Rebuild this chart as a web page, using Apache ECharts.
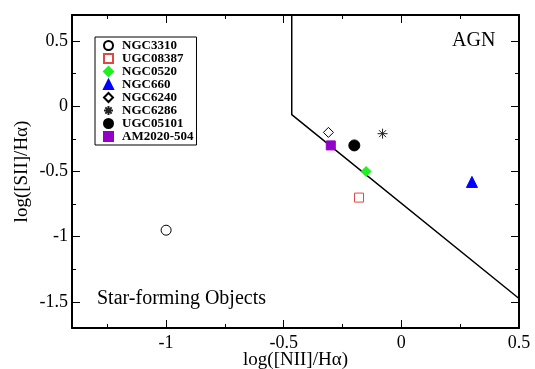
<!DOCTYPE html>
<html>
<head>
<meta charset="utf-8">
<script src="https://cdn.jsdelivr.net/npm/echarts@6/dist/echarts.min.js"></script>
<style>
  html, body { margin: 0; padding: 0; background: #fff; }
  #chart { width: 535px; height: 369px; }
</style>
</head>
<body>
<div id="chart"></div>
<script>
/** ---------------- 数据 ---------------- */
var galaxyNames = ['NGC3310', 'UGC08387', 'NGC0520', 'NGC660', 'NGC6240', 'NGC6286', 'UGC05101', 'AM2020-504'];
// [log([NII]/Hα), log([SII]/Hα)]
var ngc3310 = [[-1.0, -0.95]];
var ugc08387 = [[-0.18, -0.70]];
var ngc0520 = [[-0.15, -0.50]];
var ngc660 = [[0.30, -0.58]];
var ngc6240 = [[-0.31, -0.20]];
var ngc6286 = [[-0.08, -0.21]];
var ugc05101 = [[-0.20, -0.30]];
var am2020 = [[-0.30, -0.30]];
// 分界线
var boundaryLine = [[-0.466, 0.7], [-0.466, -0.064], [0.5, -1.474]];

var xMajorTicks = [-1, -0.5, 0, 0.5];
var xMinorTicks = [-1.25, -0.75, -0.25, 0.25];
var yMajorTicks = [-1.5, -1, -0.5, 0, 0.5];
var yMinorTicks = [-1.25, -0.75, -0.25, 0.25];

var serif = '"Liberation Serif", "DejaVu Serif", serif';
var starPath = 'path://M5,0L5,10M0,5L10,5M1.5,1.5L8.5,8.5M8.5,1.5L1.5,8.5';

/** ---------------- 坐标轴 ---------------- */
function makeAxis(pos, ticks, len, withLine, withLabel, min, max, name) {
    var ax = {
        type: 'value',
        position: pos,
        min: min,
        max: max,
        splitLine: { show: false },
        axisLine: { show: withLine, onZero: false, lineStyle: { color: '#000', width: 2 } },
        axisTick: {
            show: true, inside: true, length: len, customValues: ticks,
            lineStyle: { color: '#000', width: 1 }
        },
        axisLabel: { show: false }
    };
    if (withLabel) {
        ax.axisLabel = {
            show: true, customValues: ticks, color: '#000',
            fontFamily: serif, fontSize: 18, margin: pos === 'left' ? 4 : 6
        };
        ax.name = name;
        ax.nameLocation = 'middle';
        ax.nameMoveOverlap = false;
        ax.nameTextStyle = { color: '#000', fontFamily: serif, fontSize: 19 };
        ax.nameGap = pos === 'left' ? 40 : 23;
    }
    return ax;
}

var xAxes = [
    makeAxis('bottom', xMajorTicks, 8, true, true, -1.4, 0.5, 'log([NII]/Hα)'),
    makeAxis('bottom', xMinorTicks, 4, false, false, -1.4, 0.5),
    makeAxis('top', xMajorTicks, 8, true, false, -1.4, 0.5),
    makeAxis('top', xMinorTicks, 4, false, false, -1.4, 0.5)
];
var yAxes = [
    makeAxis('left', yMajorTicks, 8, true, true, -1.7, 0.7, 'log([SII]/Hα)'),
    makeAxis('left', yMinorTicks, 4, false, false, -1.7, 0.7),
    makeAxis('right', yMajorTicks, 8, true, false, -1.7, 0.7),
    makeAxis('right', yMinorTicks, 4, false, false, -1.7, 0.7)
];

function scatter(name, data, symbol, size, fill, stroke) {
    return {
        name: name,
        type: 'scatter',
        data: data,
        symbol: symbol,
        symbolSize: size,
        xAxisIndex: 0,
        yAxisIndex: 0,
        itemStyle: { color: fill, borderColor: stroke, borderWidth: 1, opacity: 1 },
        z: 5
    };
}

var chart = echarts.init(document.getElementById('chart'));
var option = {
    animation: false,
    backgroundColor: '#fff',
    grid: { left: 72, top: 15, right: 16, bottom: 41, outerBoundsMode: 'none', containLabel: false },
    xAxis: xAxes,
    yAxis: yAxes,
    legend: {
        data: galaxyNames,
        orient: 'vertical',
        left: 95,
        top: 37,
        padding: [2, 3, 2, 8],
        itemGap: 0,
        itemWidth: 9,
        itemHeight: 9,
        borderColor: '#000',
        borderWidth: 1,
        backgroundColor: '#fff',
        textStyle: {
            color: '#000', fontFamily: serif, fontSize: 13, fontWeight: 'bold',
            lineHeight: 12, padding: [0, 0, 0, 4]
        }
    },
    graphic: [
        {
            type: 'text', left: 452, top: 31,
            style: { text: 'AGN', fill: '#000', font: '20px ' + serif }
        },
        {
            type: 'text', left: 97, top: 289,
            style: { text: 'Star-forming Objects', fill: '#000', font: '20px ' + serif }
        }
    ],
    series: [
        {
            name: 'boundary',
            type: 'line',
            data: boundaryLine,
            showSymbol: false,
            symbol: 'none',
            xAxisIndex: 0,
            yAxisIndex: 0,
            lineStyle: { color: '#000', width: 1.5 },
            z: 3
        },
        scatter('NGC3310', ngc3310, 'circle', 10, '#fff', '#000'),
        scatter('UGC08387', ugc08387, 'rect', 9, '#fff', '#e04848'),
        scatter('NGC0520', ngc0520, 'diamond', 10, '#22ee22', '#22ee22'),
        scatter('NGC660', ngc660, 'triangle', 11, '#0000ff', '#0000ff'),
        scatter('NGC6240', ngc6240, 'diamond', 10, '#fff', '#000'),
        scatter('NGC6286', ngc6286, starPath, 10, 'rgba(0,0,0,0)', '#222'),
        scatter('UGC05101', ugc05101, 'circle', 11, '#000', '#000'),
        scatter('AM2020-504', am2020, 'rect', 9, '#9400c8', '#9400c8')
    ]
};
chart.setOption(option);
</script>
</body>
</html>
